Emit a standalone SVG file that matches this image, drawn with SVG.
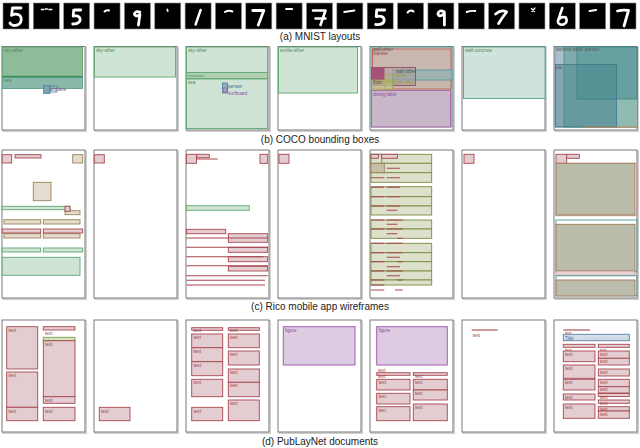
<svg xmlns="http://www.w3.org/2000/svg" width="640" height="448" viewBox="0 0 640 448">
<style>
.cap{font-family:"Liberation Sans",Arial,sans-serif;font-size:10px;fill:#222;text-anchor:middle}
.m{fill:#000;stroke:#8a8a8a;stroke-width:0.6}
.d{fill:none;stroke:#fff;stroke-width:2.8;stroke-linecap:round;stroke-linejoin:round}
.dt{stroke-dasharray:1.6 0.8}
.sh{fill:none;stroke:#cfcfcf;stroke-width:1.6}
.pn{fill:#fff;stroke:#6a6a6a;stroke-width:0.9}
.r{fill:#e4cdd0;stroke:#a7464f;stroke-width:0.9}
.rl{fill:none;stroke:#a7464f;stroke-width:1.1}
.g{fill:#d0e4d6;stroke:#5ea971;stroke-width:0.9}
.o{fill:#e5dccf;stroke:#978557;stroke-width:0.9}
.ol{fill:#dde0cb;stroke:#7b8a3e;stroke-width:0.9}
.p{fill:#ddcbe1;stroke:#a55db2;stroke-width:1}
.b{fill:#d4dfe9;stroke:#5b80a7;stroke-width:0.9}
.gy{fill:#babdaa;stroke:#a07858;stroke-width:0.9}
.lt{font-family:"Liberation Sans",Arial,sans-serif;font-size:4.6px}
.tr{fill:#9a3f48}
.tg{fill:#4a8a5a}
.tp{fill:#8a4a9a}
.tb{fill:#3f6a9a}
.tk{fill:#555}
.to{fill:#8a9a30}
</style>

<!-- (a) MNIST -->
<g id="mnist">
<g transform="translate(3,3)"><rect class="m" width="26" height="26"/><path class="d dt" stroke-width="3" d="M18 5H9.5L8.5 12.5Q11 10.5 15 11.5Q19 13 18 18Q16.5 22.5 11 22.5Q8 22 7 20"/></g>
<g transform="translate(33.35,3)"><rect class="m" width="26" height="26"/><path class="d" style="stroke-width:1.4" d="M8 6.5h2.5M12 6h2M15.5 6.5h3"/></g>
<g transform="translate(63.7,3)"><rect class="m" width="26" height="26"/><path class="d dt" d="M17 7H10L9.5 13Q16 12 16.5 16.5Q16 21 9 21"/></g>
<g transform="translate(94.05,3)"><rect class="m" width="26" height="26"/><path class="d" style="stroke-width:2" d="M10.5 8.5Q12.5 6.5 15 7.5"/></g>
<g transform="translate(124.4,3)"><rect class="m" width="26" height="26"/><path class="d" d="M15.5 9Q11 7.5 10 11Q10.5 14.5 15.5 11.5L14 22"/></g>
<g transform="translate(154.75,3)"><rect class="m" width="26" height="26"/><path class="d" style="stroke-width:1.8" d="M12.5 6.5L13 8"/></g>
<g transform="translate(185.1,3)"><rect class="m" width="26" height="26"/><path class="d" style="stroke-width:2.4" d="M15.5 7L10.5 21.5"/></g>
<g transform="translate(215.45,3)"><rect class="m" width="26" height="26"/><path class="d" style="stroke-width:2" d="M9.5 9Q13 7 17 8.5"/></g>
<g transform="translate(245.8,3)"><rect class="m" width="26" height="26"/><path class="d" d="M7 7.5H18L12.5 22"/></g>
<g transform="translate(276.15,3)"><rect class="m" width="26" height="26"/><path class="d" style="stroke-width:2" d="M10 6H16"/></g>
<g transform="translate(306.5,3)"><rect class="m" width="26" height="26"/><path class="d" style="stroke-width:2.6" d="M6.5 7.5H19L14 22M9 15.5H19"/></g>
<g transform="translate(336.85,3)"><rect class="m" width="26" height="26"/><path class="d" style="stroke-width:2" d="M7.5 9L17.5 7.5"/></g>
<g transform="translate(367.2,3)"><rect class="m" width="26" height="26"/><path class="d" d="M17.5 7H9.5L9 13.5Q17 12 17 17.5Q16.5 22 8.5 21.5"/></g>
<g transform="translate(397.55,3)"><rect class="m" width="26" height="26"/><path class="d" style="stroke-width:2" d="M10 9.5Q13 6 16 8.5"/></g>
<g transform="translate(427.9,3)"><rect class="m" width="26" height="26"/><path class="d" d="M16.5 9Q11 6 10 11Q11.5 15 16.5 10.5L16.5 22"/></g>
<g transform="translate(458.25,3)"><rect class="m" width="26" height="26"/><path class="d" style="stroke-width:2" d="M8.5 9Q12 7.5 17 8"/></g>
<g transform="translate(488.6,3)"><rect class="m" width="26" height="26"/><path class="d" d="M7 11Q13 6 18 9Q14 14 10 20.5"/></g>
<g transform="translate(518.95,3)"><rect class="m" width="26" height="26"/><path class="d" style="stroke-width:1.3" d="M12.5 5.5L15.5 8.5M13 8.5L16 5"/></g>
<g transform="translate(549.3,3)"><rect class="m" width="26" height="26"/><path class="d dt" style="stroke-width:2.6" d="M13 5L8.5 18Q9 22.5 14 21.5Q19 19.5 16.5 14.5Q12 13 9 17"/></g>
<g transform="translate(579.65,3)"><rect class="m" width="26" height="26"/><path class="d" style="stroke-width:2" d="M10 8L16.5 7"/></g>
<g transform="translate(610,3)"><rect class="m" width="26" height="26"/><path class="d" d="M7.5 8Q13 6.5 18.5 7.5L14 23"/></g>
</g>
<text class="cap" x="320" y="39.5">(a) MNIST layouts</text>

<!-- (b) COCO -->
<g id="coco">
<g id="coco1">
<rect class="sh" x="3.2" y="47.7" width="83" height="83.5"/><rect class="pn" x="2" y="46.5" width="83" height="83.5"/>
<rect x="2.5" y="47" width="80" height="30.5" fill="#8fbc98" stroke="#5f9f6f" stroke-width="0.9"/>
<rect x="2.5" y="77.5" width="80" height="11" fill="#8ab8a8" stroke="#5a9f88" stroke-width="0.9"/>
<line x1="2.5" y1="76.5" x2="82.5" y2="76.5" stroke="#3f8f5a" stroke-width="1.6"/>
<rect x="43.5" y="85.5" width="6.5" height="8" fill="#7aa5b5" stroke="#4a85a5" stroke-width="0.8"/>
<rect x="50" y="86" width="7" height="6" fill="none" stroke="#4a85a5" stroke-width="0.8"/>
<text class="lt tg" x="4" y="51.5">sky-other</text><text class="lt tg" x="4" y="81.5">sea</text><text class="lt tp" x="50" y="91">airplane</text>
</g>
<g id="coco2">
<rect class="sh" x="95.2" y="47.7" width="83" height="83.5"/><rect class="pn" x="94" y="46.5" width="83" height="83.5"/>
<rect class="g" x="94.5" y="47" width="81" height="30"/>
<text class="lt tg" x="96" y="51.5">sky-other</text>
</g>
<g id="coco3">
<rect class="sh" x="187.2" y="47.7" width="83" height="83.5"/><rect class="pn" x="186" y="46.5" width="83" height="83.5"/>
<rect class="g" x="186.5" y="47" width="81" height="25.5"/>
<rect x="186.5" y="72.5" width="81" height="6" fill="#b3cfb3" stroke="#5ea971" stroke-width="0.9"/>
<rect class="g" x="186.5" y="79" width="81" height="49.5"/>
<rect x="222.5" y="83" width="5" height="10" fill="#8fb0c0" stroke="#4a7aa5" stroke-width="0.8"/>
<rect x="223" y="88" width="4" height="4" fill="none" stroke="#a060b0" stroke-width="0.7"/>
<text class="lt tg" x="188" y="51.5">sky-other</text><text class="lt tg" x="188" y="76.8" style="font-size:4px">mountain</text><text class="lt tg" x="188" y="83.5">sea</text>
<text class="lt tb" x="228" y="88">person</text><text class="lt tp" x="228" y="94.5">surfboard</text>
</g>
<g id="coco4">
<rect class="sh" x="279.2" y="47.7" width="83" height="83.5"/><rect class="pn" x="278" y="46.5" width="83" height="83.5"/>
<rect class="g" x="278.5" y="47" width="79" height="46"/>
<text class="lt tg" x="280" y="51.5">textile-other</text>
</g>
<g id="coco5">
<rect class="sh" x="371.2" y="47.7" width="83" height="83.5"/><rect class="pn" x="370" y="46.5" width="83" height="83.5"/>
<rect x="371" y="47" width="81" height="80" fill="#bfc6bd" stroke="#5aa0a0" stroke-width="0.8"/>
<rect x="372.5" y="49" width="78.5" height="40" fill="#c9b6ae" stroke="#c05050" stroke-width="0.8"/>
<rect x="393" y="70" width="59" height="10" fill="#9fb2b0" stroke="#4a9aa0" stroke-width="0.8"/>
<rect x="371.5" y="67.5" width="44" height="18" fill="#a99a9a" fill-opacity="0.5" stroke="#8a4060" stroke-width="0.8"/>
<rect x="371.5" y="67.5" width="13" height="18" fill="#a8507a"/>
<rect x="371.5" y="80" width="21" height="10" fill="#bfc48e" fill-opacity="0.7" stroke="#9aaa40" stroke-width="0.8"/>
<rect x="385" y="75" width="8" height="15" fill="none" stroke="#9aaa40" stroke-width="0.8"/>
<rect x="371.5" y="90.5" width="79" height="36.5" fill="#c7b7c9" stroke="#b060a0" stroke-width="0.9"/>
<text class="lt tk" x="373" y="50.5">wall-other</text><text class="lt tr" x="373" y="54.5">blanket</text>
<text class="lt tk" x="396" y="72.5">wall-other</text><text class="lt to" x="396" y="76.5">other</text>
<text class="lt tk" x="373" y="84">floor</text><text class="lt to" x="386" y="84">furniture-other</text>
<text class="lt tp" x="373" y="96">dining table</text>
</g>
<g id="coco6">
<rect class="sh" x="463.2" y="47.7" width="83" height="83.5"/><rect class="pn" x="462" y="46.5" width="83" height="83.5"/>
<rect x="463.5" y="47" width="81.5" height="51.5" fill="#cfe2dd" stroke="#58a08e" stroke-width="0.9"/>
<text class="lt tg" x="465" y="51.5">wall-concrete</text>
</g>
<g id="coco7">
<rect class="sh" x="555.2" y="47.7" width="83" height="83.5"/><rect class="pn" x="554" y="46.5" width="83" height="83.5"/>
<rect x="555" y="47" width="82" height="80" fill="#a9bdcb" stroke="#6a8aa8" stroke-width="0.8"/>
<rect x="564" y="47" width="73" height="80" fill="#7eabab" stroke="#4a9090" stroke-width="0.8"/>
<rect x="616.5" y="99" width="20.5" height="28" fill="#8fbbb3"/>
<rect x="577" y="47" width="60" height="52" fill="#66a0a0" stroke="#3a8080" stroke-width="0.8"/>
<rect x="555.5" y="64.5" width="61" height="62.5" fill="#3a7a88" fill-opacity="0.35" stroke="#3a7a88" stroke-width="0.8"/>
<line x1="582" y1="127" x2="637" y2="127" stroke="#c08050" stroke-width="1"/>
<text class="lt tk" x="556" y="51">window-blind</text><text class="lt tk" x="585" y="51">person</text><text class="lt tk" x="556" y="68.5">car</text>
</g>
</g>
<text class="cap" x="320" y="143">(b) COCO bounding boxes</text>

<!-- (c) Rico -->
<g id="rico">
<g id="rico1">
<rect class="sh" x="3.2" y="151.2" width="83" height="148"/><rect class="pn" x="2" y="150" width="83" height="148"/>
<rect class="r" x="2.2" y="154.7" width="9.5" height="8.3"/>
<rect class="r" x="15" y="154.7" width="26" height="3.3"/>
<rect class="o" x="72.7" y="154.7" width="10" height="8.3"/>
<rect class="o" x="33.3" y="182.3" width="17.7" height="18.4"/>
<rect class="g" x="2.2" y="206.3" width="67.8" height="3.4"/>
<rect class="o" x="65" y="210.7" width="15" height="4"/>
<rect class="r" x="65" y="206.3" width="5" height="5" fill="none"/>
<rect class="o" x="4" y="219.7" width="36.7" height="4.3"/><rect class="o" x="43.3" y="219.7" width="36.7" height="4.3"/>
<rect class="o" x="4" y="233.7" width="36.7" height="4.3"/><rect class="o" x="43.3" y="233.7" width="36.7" height="4.3"/>
<rect class="r" x="2.2" y="229" width="38.5" height="4"/><rect class="r" x="43.3" y="229" width="39.4" height="4"/>
<rect class="g" x="2.2" y="248" width="38.5" height="4"/><rect class="g" x="43.3" y="248" width="39.4" height="4"/>
<rect class="g" x="2.2" y="257.3" width="77.8" height="18"/>
</g>
<g id="rico2">
<rect class="sh" x="95.2" y="151.2" width="83" height="148"/><rect class="pn" x="94" y="150" width="83" height="148"/>
<rect class="r" x="94.3" y="154.7" width="10" height="8.3"/>
</g>
<g id="rico3">
<rect class="sh" x="187.2" y="151.2" width="83" height="148"/><rect class="pn" x="186" y="150" width="83" height="148"/>
<rect class="r" x="186.5" y="154.3" width="10" height="9"/>
<rect class="r" x="196.7" y="154.3" width="12.6" height="3.4"/>
<rect class="r" x="260" y="154.3" width="7.7" height="9"/>
<rect class="g" x="186.5" y="205.7" width="62.8" height="4.6"/>
<rect class="r" x="186.5" y="229.3" width="39.2" height="4.4"/>
<rect class="r" x="228.3" y="233.7" width="39.4" height="8.6"/>
<rect class="r" x="228.3" y="247.3" width="39.4" height="5"/>
<rect class="r" x="228.3" y="256.7" width="39.4" height="5"/>
<rect class="r" x="228.3" y="266.3" width="39.4" height="4.7"/>
<path class="rl" d="M196.7 159H217.7M228.3 238H267.7M186.5 238H228.3M186.5 247.3H267.7M186.5 256.7H263.3M186.5 265.7H267.7M186.5 275.7H267.7M186.5 280.3H265M186.5 285H265"/>
</g>
<g id="rico4">
<rect class="sh" x="279.2" y="151.2" width="83" height="148"/><rect class="pn" x="278" y="150" width="83" height="148"/>
<rect class="r" x="279" y="154.3" width="10" height="9"/>
</g>
<g id="rico5">
<rect class="sh" x="371.2" y="151.2" width="83" height="148"/><rect class="pn" x="370" y="150" width="83" height="148"/>
<rect class="ol" x="371" y="154.3" width="60.7" height="9"/>
<rect class="ol" x="371" y="163.3" width="60.7" height="9.4"/>
<rect class="ol" x="371" y="172.7" width="60.7" height="9.6"/>
<rect class="ol" x="371" y="186.7" width="60.7" height="10"/>
<rect class="ol" x="371" y="196.7" width="60.7" height="9.3"/>
<rect class="ol" x="371" y="206" width="60.7" height="9"/>
<rect class="ol" x="371" y="220" width="60.7" height="9"/>
<rect class="ol" x="371" y="229" width="60.7" height="9.3"/>
<rect class="ol" x="371" y="243.3" width="60.7" height="9.4"/>
<rect class="ol" x="371" y="252.7" width="60.7" height="9"/>
<rect class="ol" x="371" y="261.7" width="60.7" height="9.3"/>
<rect class="ol" x="371" y="271" width="60.7" height="9"/>
<rect class="ol" x="371" y="280" width="60.7" height="5"/>
<rect class="ol" x="371" y="154.3" width="10.7" height="9" fill="#cdc3aa"/>
<rect x="371" y="163.3" width="13.3" height="9.4" fill="#c9bfa8" stroke="#978557" stroke-width="0.9"/>
<rect class="r" x="371" y="154.3" width="7.3" height="4"/>
<rect class="r" x="381.7" y="154.3" width="15.6" height="4"/>
<path class="rl" d="M386.7 168.3H400M371 177.7H384.3M386.7 177.7H400M371 187.3H384.3M386.7 187.3H400M371 196.7H384.3M386.7 196.7H400M371 206H384.3M386.7 206H400M386.7 210.3H397.3M371 220H384.3M386.7 220H402.7M386.7 224.3H397.3M371 229H384.3M386.7 229H402.7M386.7 233.7H397.3M397.3 238.3H402.7M371 243.3H384.3M386.7 243.3H402.7M371 252.7H384.3M386.7 252.7H402.7M386.7 257.3H400M371 261.7H384.3M397.3 261.7H402.7M386.7 266.7H400M371 271H384.3M386.7 271H402.7M386.7 275.7H400M371 280H384.3M397.3 280H402.7M371 285H384.3M371 290H384.3M395 290H402.7"/>
</g>
<g id="rico6">
<rect class="sh" x="463.2" y="151.2" width="83" height="148"/><rect class="pn" x="462" y="150" width="83" height="148"/>
<rect class="r" x="464" y="154.3" width="10" height="9"/>
</g>
<g id="rico7">
<rect class="sh" x="555.2" y="151.2" width="83" height="148"/><rect class="pn" x="554" y="150" width="83" height="148"/>
<rect class="r" x="556" y="154.3" width="10.7" height="9"/>
<rect class="r" x="566.7" y="154.3" width="12.6" height="4"/>
<rect x="556" y="163.3" width="80.5" height="52.4" fill="none" stroke="#d0a0a0" stroke-width="1"/>
<rect class="gy" x="556" y="163.3" width="79" height="51.7"/>
<rect x="556" y="220" width="81" height="51.7" fill="none" stroke="#5aa0a0" stroke-width="1"/>
<rect class="gy" x="556" y="224.3" width="79" height="46.7"/>
<rect x="556" y="271" width="79" height="4.7" fill="#e8d3d3" stroke="#c09090" stroke-width="0.8"/>
<rect x="556" y="275.7" width="81" height="20" fill="none" stroke="#5aa0a0" stroke-width="1"/>
<rect class="gy" x="556" y="280" width="79" height="16"/>
</g>
</g>
<text class="cap" x="320" y="309.5">(c) Rico mobile app wireframes</text>

<!-- (d) PubLayNet -->
<g id="publaynet">
<g id="doc1">
<rect class="sh" x="3.2" y="321.2" width="83" height="112"/><rect class="pn" x="2" y="320" width="83" height="112"/>
<rect class="r" x="6.7" y="326.7" width="31" height="42.3"/><text class="lt tr" x="8.5" y="331.5">text</text>
<rect class="r" x="43.3" y="326.7" width="31.7" height="3.3"/><text class="lt tr" x="45" y="334.5">text</text>
<rect x="43.3" y="337.3" width="31.7" height="3.4" fill="#d5e3c3" stroke="#7aa050" stroke-width="0.9"/>
<rect class="r" x="43.3" y="340.7" width="31.7" height="56"/><text class="lt to" x="45" y="341.6" style="font-size:4px">title</text><text class="lt tr" x="45" y="346.3">text</text>
<rect class="r" x="43.3" y="396.7" width="31.7" height="6.6"/><text class="lt tr" x="45" y="401.5">text</text>
<rect class="r" x="6.7" y="372" width="31" height="35.3"/><text class="lt tr" x="8.5" y="377">text</text>
<rect class="r" x="6.7" y="407.3" width="31" height="13.4"/><text class="lt tr" x="8.5" y="412.5">text</text>
<rect class="r" x="43.3" y="407.3" width="31.7" height="13.4"/><text class="lt tr" x="45" y="412.5">text</text>
</g>
<g id="doc2">
<rect class="sh" x="95.2" y="321.2" width="83" height="112"/><rect class="pn" x="94" y="320" width="83" height="112"/>
<rect class="r" x="99.3" y="407.3" width="30.7" height="13.4"/><text class="lt tr" x="101" y="412.5">text</text>
</g>
<g id="doc3">
<rect class="sh" x="187.2" y="321.2" width="83" height="112"/><rect class="pn" x="186" y="320" width="83" height="112"/>
<rect class="r" x="191.7" y="327.7" width="31" height="2.6"/><text class="lt tr" x="193.5" y="332.3">text</text>
<rect class="r" x="228.3" y="327.7" width="31" height="2.6"/><text class="lt tr" x="230" y="332.3">text</text>
<rect class="r" x="191.7" y="334" width="31" height="13.7"/><text class="lt tr" x="193.5" y="338.8">text</text>
<rect class="r" x="191.7" y="347.7" width="31" height="14"/><text class="lt tr" x="193.5" y="352.5">text</text>
<rect class="r" x="191.7" y="361.7" width="31" height="14"/><text class="lt tr" x="193.5" y="366.5">text</text>
<rect class="r" x="191.7" y="379.3" width="31" height="17.4"/><text class="lt tr" x="193.5" y="384">text</text>
<rect class="r" x="191.7" y="407.3" width="31" height="13.4"/><text class="lt tr" x="193.5" y="412.5">text</text>
<rect class="r" x="228.3" y="334" width="31" height="13.7"/><text class="lt tr" x="230" y="338.8">text</text>
<rect class="r" x="228.3" y="351" width="31" height="14"/><text class="lt tr" x="230" y="355.8">text</text>
<rect class="r" x="228.3" y="369" width="31" height="13.3"/><text class="lt tr" x="230" y="373.8">text</text>
<rect class="r" x="228.3" y="382.3" width="31" height="14.4"/><text class="lt tr" x="230" y="387">text</text>
<rect class="r" x="228.3" y="400" width="31" height="20.7"/><text class="lt tr" x="230" y="404.8">text</text>
</g>
<g id="doc4">
<rect class="sh" x="279.2" y="321.2" width="83" height="112"/><rect class="pn" x="278" y="320" width="83" height="112"/>
<rect class="p" x="283.3" y="326.7" width="71.7" height="38.3"/><text class="lt tp" x="285" y="331.5">figure</text>
</g>
<g id="doc5">
<rect class="sh" x="371.2" y="321.2" width="83" height="112"/><rect class="pn" x="370" y="320" width="83" height="112"/>
<rect class="p" x="376.7" y="326.7" width="70.6" height="38.3"/><text class="lt tp" x="378.5" y="331.5">figure</text>
<text class="lt tr" x="378" y="371.5">text</text>
<rect class="r" x="376.7" y="372.7" width="33.3" height="2.6"/><rect class="r" x="413.3" y="372.7" width="34" height="2.6"/>
<text class="lt tr" x="378" y="378.3">text</text><text class="lt tr" x="415" y="378.3">text</text>
<rect class="r" x="376.7" y="379.3" width="33.3" height="10.7"/><text class="lt tr" x="378.5" y="384">text</text>
<rect class="r" x="376.7" y="393.3" width="33.3" height="10.7"/><text class="lt tr" x="378.5" y="398">text</text>
<rect class="r" x="376.7" y="406.7" width="33.3" height="14"/><text class="lt tr" x="378.5" y="411.5">text</text>
<rect class="r" x="413.3" y="379.3" width="34" height="10.7"/><text class="lt tr" x="415" y="384">text</text>
<rect class="r" x="413.3" y="390" width="34" height="10"/><text class="lt tr" x="415" y="394.8">text</text>
<rect class="r" x="413.3" y="404" width="34" height="16.7"/><text class="lt tr" x="415" y="408.8">text</text>
</g>
<g id="doc6">
<rect class="sh" x="463.2" y="321.2" width="83" height="112"/><rect class="pn" x="462" y="320" width="83" height="112"/>
<path class="rl" d="M471.7 330H497.7"/><text class="lt tr" x="472.7" y="336.5">text</text>
</g>
<g id="doc7">
<rect class="sh" x="555.2" y="321.2" width="83" height="112"/><rect class="pn" x="554" y="320" width="83" height="112"/>
<path class="rl" d="M563.3 330H590"/>
<rect class="b" x="563.3" y="334.3" width="66" height="6.4"/>
<path d="M582 338H628" stroke="#8aa0b8" stroke-width="0.5" stroke-dasharray="1 1.5"/>
<text class="lt tr" x="565" y="334.2" style="font-size:4px">text</text><text class="lt tb" x="565" y="339.8">Title</text>
<rect class="r" x="563.3" y="344.3" width="31.7" height="3"/><rect class="r" x="598.3" y="344.3" width="31" height="3"/>
<text class="lt tr" x="565" y="350.8" style="font-size:4px">text</text><text class="lt tr" x="600" y="350.8" style="font-size:4px">text</text>
<rect class="r" x="563.3" y="351" width="31.7" height="10.7"/><text class="lt tr" x="565" y="356.3">text</text>
<rect class="r" x="563.3" y="365" width="31.7" height="13.3"/><text class="lt tr" x="565" y="369.8">text</text>
<rect class="r" x="563.3" y="379.3" width="31.7" height="10.7"/><text class="lt tr" x="565" y="384">text</text>
<rect class="r" x="563.3" y="394" width="31.7" height="6"/><text class="lt tr" x="565" y="398.8">text</text>
<rect class="r" x="563.3" y="404" width="31.7" height="14.3"/><text class="lt tr" x="565" y="408.8">text</text>
<rect class="r" x="598.3" y="351" width="31" height="7.3"/><text class="lt tr" x="600" y="356.3">text</text>
<rect class="r" x="598.3" y="358.3" width="31" height="6.7"/><text class="lt tr" x="600" y="363">text</text>
<rect class="r" x="598.3" y="369" width="31" height="7"/><text class="lt tr" x="600" y="373.8">text</text>
<rect class="r" x="598.3" y="379.3" width="31" height="7.3"/><text class="lt tr" x="600" y="384">text</text>
<rect class="r" x="598.3" y="386.7" width="31" height="6.3"/><text class="lt tr" x="600" y="391.3">text</text>
<rect class="r" x="598.3" y="393.5" width="31" height="3"/><text class="lt tr" x="600" y="398.5">text</text>
<rect class="r" x="598.3" y="400" width="31" height="3.3"/><text class="lt tr" x="600" y="405">text</text>
<rect class="r" x="598.3" y="406.7" width="31" height="4.3"/><text class="lt tr" x="600" y="410.7">text</text>
<rect class="r" x="598.3" y="411" width="31" height="7.3"/><text class="lt tr" x="600" y="415.8">text</text>
</g>
</g>
<text class="cap" x="320" y="444.5">(d) PubLayNet documents</text>
</svg>
